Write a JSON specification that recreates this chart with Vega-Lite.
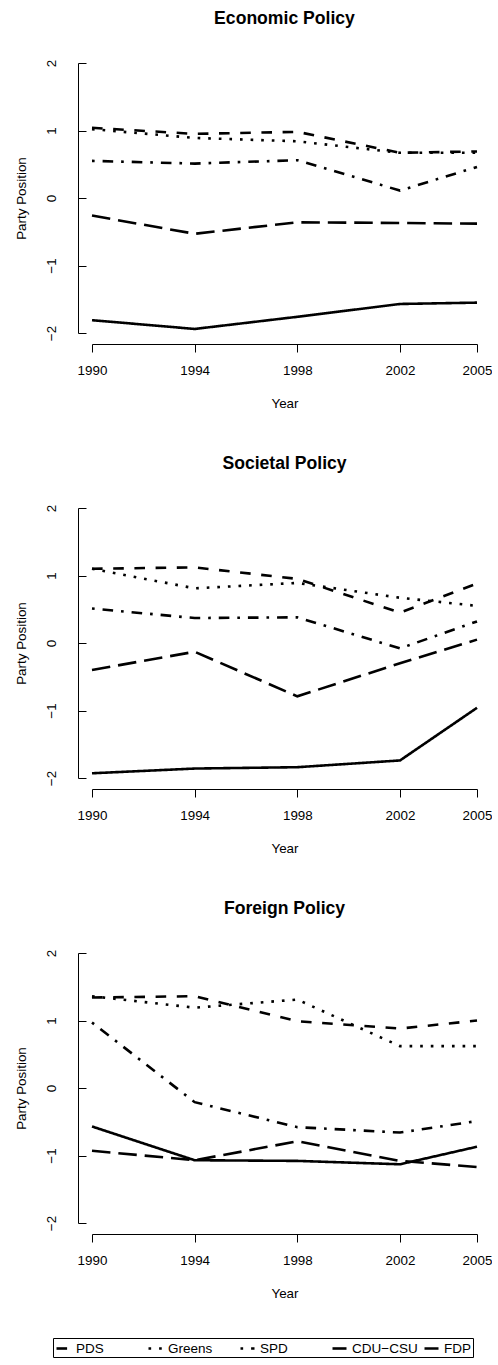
{
  "$schema": "https://vega.github.io/schema/vega-lite/v6.json",
  "padding": {"left": 14, "top": 9, "right": 0, "bottom": 6},
  "background": "white",
  "datasets": {
    "positions": [
      {"policy": "Economic Policy", "party": "PDS", "year": 1990, "position": 1.04},
      {"policy": "Economic Policy", "party": "PDS", "year": 1994, "position": 0.95},
      {"policy": "Economic Policy", "party": "PDS", "year": 1998, "position": 0.98},
      {"policy": "Economic Policy", "party": "PDS", "year": 2002, "position": 0.67},
      {"policy": "Economic Policy", "party": "PDS", "year": 2005, "position": 0.69},
      {"policy": "Economic Policy", "party": "Greens", "year": 1990, "position": 1.02},
      {"policy": "Economic Policy", "party": "Greens", "year": 1994, "position": 0.89},
      {"policy": "Economic Policy", "party": "Greens", "year": 1998, "position": 0.84},
      {"policy": "Economic Policy", "party": "Greens", "year": 2002, "position": 0.67},
      {"policy": "Economic Policy", "party": "Greens", "year": 2005, "position": 0.67},
      {"policy": "Economic Policy", "party": "SPD", "year": 1990, "position": 0.55},
      {"policy": "Economic Policy", "party": "SPD", "year": 1994, "position": 0.51},
      {"policy": "Economic Policy", "party": "SPD", "year": 1998, "position": 0.56},
      {"policy": "Economic Policy", "party": "SPD", "year": 2002, "position": 0.11},
      {"policy": "Economic Policy", "party": "SPD", "year": 2005, "position": 0.46},
      {"policy": "Economic Policy", "party": "CDU−CSU", "year": 1990, "position": -0.26},
      {"policy": "Economic Policy", "party": "CDU−CSU", "year": 1994, "position": -0.53},
      {"policy": "Economic Policy", "party": "CDU−CSU", "year": 1998, "position": -0.36},
      {"policy": "Economic Policy", "party": "CDU−CSU", "year": 2002, "position": -0.37},
      {"policy": "Economic Policy", "party": "CDU−CSU", "year": 2005, "position": -0.38},
      {"policy": "Economic Policy", "party": "FDP", "year": 1990, "position": -1.81},
      {"policy": "Economic Policy", "party": "FDP", "year": 1994, "position": -1.94},
      {"policy": "Economic Policy", "party": "FDP", "year": 1998, "position": -1.76},
      {"policy": "Economic Policy", "party": "FDP", "year": 2002, "position": -1.57},
      {"policy": "Economic Policy", "party": "FDP", "year": 2005, "position": -1.55},

      {"policy": "Societal Policy", "party": "PDS", "year": 1990, "position": 1.10},
      {"policy": "Societal Policy", "party": "PDS", "year": 1994, "position": 1.12},
      {"policy": "Societal Policy", "party": "PDS", "year": 1998, "position": 0.95},
      {"policy": "Societal Policy", "party": "PDS", "year": 2002, "position": 0.45},
      {"policy": "Societal Policy", "party": "PDS", "year": 2005, "position": 0.88},
      {"policy": "Societal Policy", "party": "Greens", "year": 1990, "position": 1.10},
      {"policy": "Societal Policy", "party": "Greens", "year": 1994, "position": 0.81},
      {"policy": "Societal Policy", "party": "Greens", "year": 1998, "position": 0.89},
      {"policy": "Societal Policy", "party": "Greens", "year": 2002, "position": 0.67},
      {"policy": "Societal Policy", "party": "Greens", "year": 2005, "position": 0.55},
      {"policy": "Societal Policy", "party": "SPD", "year": 1990, "position": 0.51},
      {"policy": "Societal Policy", "party": "SPD", "year": 1994, "position": 0.37},
      {"policy": "Societal Policy", "party": "SPD", "year": 1998, "position": 0.38},
      {"policy": "Societal Policy", "party": "SPD", "year": 2002, "position": -0.08},
      {"policy": "Societal Policy", "party": "SPD", "year": 2005, "position": 0.32},
      {"policy": "Societal Policy", "party": "CDU−CSU", "year": 1990, "position": -0.40},
      {"policy": "Societal Policy", "party": "CDU−CSU", "year": 1994, "position": -0.13},
      {"policy": "Societal Policy", "party": "CDU−CSU", "year": 1998, "position": -0.79},
      {"policy": "Societal Policy", "party": "CDU−CSU", "year": 2002, "position": -0.30},
      {"policy": "Societal Policy", "party": "CDU−CSU", "year": 2005, "position": 0.05},
      {"policy": "Societal Policy", "party": "FDP", "year": 1990, "position": -1.93},
      {"policy": "Societal Policy", "party": "FDP", "year": 1994, "position": -1.86},
      {"policy": "Societal Policy", "party": "FDP", "year": 1998, "position": -1.84},
      {"policy": "Societal Policy", "party": "FDP", "year": 2002, "position": -1.74},
      {"policy": "Societal Policy", "party": "FDP", "year": 2005, "position": -0.96},

      {"policy": "Foreign Policy", "party": "PDS", "year": 1990, "position": 1.34},
      {"policy": "Foreign Policy", "party": "PDS", "year": 1994, "position": 1.36},
      {"policy": "Foreign Policy", "party": "PDS", "year": 1998, "position": 0.99},
      {"policy": "Foreign Policy", "party": "PDS", "year": 2002, "position": 0.88},
      {"policy": "Foreign Policy", "party": "PDS", "year": 2005, "position": 1.00},
      {"policy": "Foreign Policy", "party": "Greens", "year": 1990, "position": 1.36},
      {"policy": "Foreign Policy", "party": "Greens", "year": 1994, "position": 1.19},
      {"policy": "Foreign Policy", "party": "Greens", "year": 1998, "position": 1.31},
      {"policy": "Foreign Policy", "party": "Greens", "year": 2002, "position": 0.62},
      {"policy": "Foreign Policy", "party": "Greens", "year": 2005, "position": 0.62},
      {"policy": "Foreign Policy", "party": "SPD", "year": 1990, "position": 0.97},
      {"policy": "Foreign Policy", "party": "SPD", "year": 1994, "position": -0.21},
      {"policy": "Foreign Policy", "party": "SPD", "year": 1998, "position": -0.58},
      {"policy": "Foreign Policy", "party": "SPD", "year": 2002, "position": -0.66},
      {"policy": "Foreign Policy", "party": "SPD", "year": 2005, "position": -0.49},
      {"policy": "Foreign Policy", "party": "CDU−CSU", "year": 1990, "position": -0.93},
      {"policy": "Foreign Policy", "party": "CDU−CSU", "year": 1994, "position": -1.07},
      {"policy": "Foreign Policy", "party": "CDU−CSU", "year": 1998, "position": -0.79},
      {"policy": "Foreign Policy", "party": "CDU−CSU", "year": 2002, "position": -1.08},
      {"policy": "Foreign Policy", "party": "CDU−CSU", "year": 2005, "position": -1.17},
      {"policy": "Foreign Policy", "party": "FDP", "year": 1990, "position": -0.57},
      {"policy": "Foreign Policy", "party": "FDP", "year": 1994, "position": -1.07},
      {"policy": "Foreign Policy", "party": "FDP", "year": 1998, "position": -1.08},
      {"policy": "Foreign Policy", "party": "FDP", "year": 2002, "position": -1.13},
      {"policy": "Foreign Policy", "party": "FDP", "year": 2005, "position": -0.87}
    ]
  },
  "data": {"name": "positions"},
  "spacing": 44,
  "vconcat": [
    {
      "title": "Economic Policy",
      "width": 385,
      "height": 270,
      "transform": [{"filter": "datum.policy === 'Economic Policy'"}],
      "mark": {"type": "line", "color": "black", "strokeWidth": 2.6, "strokeCap": "butt"},
      "encoding": {
        "x": {"field": "year", "type": "quantitative", "scale": {"domain": [1990, 2005], "nice": false, "zero": false},
              "axis": {"title": "Year", "values": [1990, 1994, 1998, 2002, 2005], "format": "d"}},
        "y": {"field": "position", "type": "quantitative", "scale": {"domain": [-2, 2], "nice": false},
              "axis": {"title": "Party Position", "values": [-2, -1, 0, 1, 2], "format": "d"}},
        "strokeDash": {"field": "party", "type": "nominal",
                       "scale": {"domain": ["PDS", "Greens", "SPD", "CDU−CSU", "FDP"],
                                 "range": [[10.6, 10.6], [2.65, 7.95], [2.65, 7.95, 10.6, 7.95], [18.5, 7.95], [1, 0]]},
                       "legend": {"title": null, "orient": "none", "legendX": -39, "legendY": 1275, "direction": "horizontal", "columns": 5}}
      }
    },
    {
      "title": "Societal Policy",
      "width": 385,
      "height": 270,
      "transform": [{"filter": "datum.policy === 'Societal Policy'"}],
      "mark": {"type": "line", "color": "black", "strokeWidth": 2.6, "strokeCap": "butt"},
      "encoding": {
        "x": {"field": "year", "type": "quantitative", "scale": {"domain": [1990, 2005], "nice": false, "zero": false},
              "axis": {"title": "Year", "values": [1990, 1994, 1998, 2002, 2005], "format": "d"}},
        "y": {"field": "position", "type": "quantitative", "scale": {"domain": [-2, 2], "nice": false},
              "axis": {"title": "Party Position", "values": [-2, -1, 0, 1, 2], "format": "d"}},
        "strokeDash": {"field": "party", "type": "nominal"}
      }
    },
    {
      "title": "Foreign Policy",
      "width": 385,
      "height": 270,
      "transform": [{"filter": "datum.policy === 'Foreign Policy'"}],
      "mark": {"type": "line", "color": "black", "strokeWidth": 2.6, "strokeCap": "butt"},
      "encoding": {
        "x": {"field": "year", "type": "quantitative", "scale": {"domain": [1990, 2005], "nice": false, "zero": false},
              "axis": {"title": "Year", "values": [1990, 1994, 1998, 2002, 2005], "format": "d"}},
        "y": {"field": "position", "type": "quantitative", "scale": {"domain": [-2, 2], "nice": false},
              "axis": {"title": "Party Position", "values": [-2, -1, 0, 1, 2], "format": "d"}},
        "strokeDash": {"field": "party", "type": "nominal"}
      }
    }
  ],
  "resolve": {"scale": {"strokeDash": "shared"}, "legend": {"strokeDash": "shared"}},
  "config": {
    "font": "Liberation Sans",
    "view": {"stroke": null},
    "title": {"fontSize": 17.6, "fontWeight": "bold", "color": "black", "anchor": "middle", "offset": 32},
    "axis": {
      "grid": false,
      "domainColor": "black",
      "tickColor": "black",
      "labelColor": "black",
      "titleColor": "black",
      "labelFontSize": 13.4,
      "titleFontSize": 13.4,
      "titleFontWeight": "normal",
      "labelFlush": false,
      "domainWidth": 1,
      "tickWidth": 1
    },
    "axisX": {"offset": 11, "tickSize": 8, "labelPadding": 11, "titlePadding": 20},
    "axisY": {"offset": 14, "tickSize": -8, "labelAngle": -90, "labelAlign": "center", "labelBaseline": "bottom", "labelPadding": 28, "titlePadding": 16},
    "legend": {
      "gridAlign": "all",
      "symbolType": "stroke",
      "symbolSize": 196,
      "symbolStrokeWidth": 2.6,
      "symbolStrokeColor": "black",
      "labelFontSize": 13.5,
      "labelColor": "black",
      "labelOffset": 4,
      "columnPadding": 1,
      "strokeColor": "black",
      "padding": 2
    }
  }
}
